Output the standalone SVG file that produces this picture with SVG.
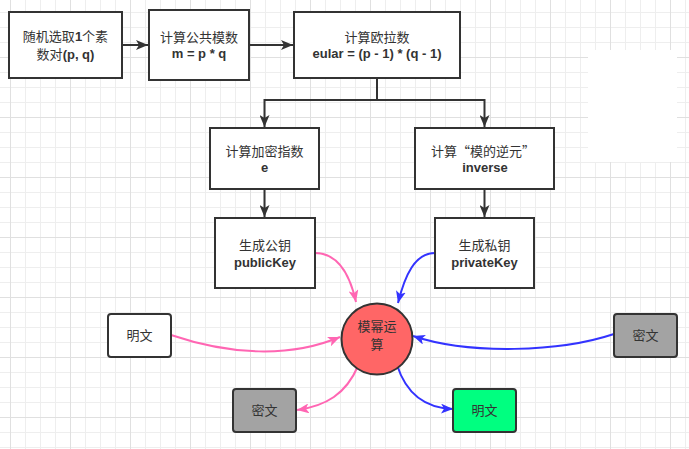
<svg xmlns="http://www.w3.org/2000/svg" width="689" height="449" viewBox="0 0 689 449">
<style>
.box{fill:#ffffff;stroke:#333333;stroke-width:2}
.cn{font-family:"Noto Sans CJK SC","Liberation Sans",sans-serif;font-size:13px;fill:#333333;text-anchor:middle}
.en{font-family:"Liberation Sans","Noto Sans CJK SC",sans-serif;font-size:13px;font-weight:bold;fill:#333333}
.blk{fill:none;stroke:#333333;stroke-width:2}
.pink{fill:none;stroke:#FF66B3;stroke-width:2}
.blue{fill:none;stroke:#3333FF;stroke-width:2}
</style>
<defs>
<pattern id="grid" width="60" height="60" x="10" y="-3" patternUnits="userSpaceOnUse">
<rect x="0" y="0" width="60" height="60" fill="#ffffff"/>
<rect x="15" y="0" width="1" height="60" fill="#eeeeee"/>
<rect x="30" y="0" width="1" height="60" fill="#eeeeee"/>
<rect x="45" y="0" width="1" height="60" fill="#eeeeee"/>
<rect x="0" y="15" width="60" height="1" fill="#eeeeee"/>
<rect x="0" y="30" width="60" height="1" fill="#eeeeee"/>
<rect x="0" y="45" width="60" height="1" fill="#eeeeee"/>
<rect x="0" y="0" width="1" height="60" fill="#e0e0e0"/>
<rect x="0" y="0" width="60" height="1" fill="#e0e0e0"/>
</pattern>
<marker id="aBlk" viewBox="0 0 12 10" markerWidth="12" markerHeight="10" refX="12" refY="5" orient="auto" markerUnits="userSpaceOnUse">
<path d="M0,0 L12,5 L0,10 L3,5 z" fill="#333333"/>
</marker>
<marker id="aPink" viewBox="0 0 12 10" markerWidth="12" markerHeight="10" refX="12" refY="5" orient="auto" markerUnits="userSpaceOnUse">
<path d="M0,0 L12,5 L0,10 L3,5 z" fill="#FF66B3"/>
</marker>
<marker id="aBlue" viewBox="0 0 12 10" markerWidth="12" markerHeight="10" refX="12" refY="5" orient="auto" markerUnits="userSpaceOnUse">
<path d="M0,0 L12,5 L0,10 L3,5 z" fill="#3333FF"/>
</marker>
</defs>
<rect x="0" y="0" width="689" height="449" fill="url(#grid)"/>
<rect x="588" y="50" width="89" height="112" fill="#ffffff"/>

<g id="connectors">
<path class="blk" d="M122,45 H148" marker-end="url(#aBlk)"/>
<path class="blk" d="M249,45 H293" marker-end="url(#aBlk)"/>
<path class="blk" d="M377,78 V100"/>
<path class="blk" d="M264.5,100 H484.5"/>
<path class="blk" d="M264.5,99 V127" marker-end="url(#aBlk)"/>
<path class="blk" d="M484.5,99 V127" marker-end="url(#aBlk)"/>
<path class="blk" d="M264.5,189 V217" marker-end="url(#aBlk)"/>
<path class="blk" d="M484.5,189 V217" marker-end="url(#aBlk)"/>
<path class="pink" d="M315,253 C338,253 350,275 356,302" marker-end="url(#aPink)"/>
<path class="blue" d="M435,253 C415,253 405,275 398,303" marker-end="url(#aBlue)"/>
<path class="pink" d="M171,335 C230,355 290,358 340,337" marker-end="url(#aPink)"/>
<path class="blue" d="M614,334 C560,352 470,355 413,336" marker-end="url(#aBlue)"/>
<path class="pink" d="M358,366 C346,394 326,406 297,410" marker-end="url(#aPink)"/>
<path class="blue" d="M397,365 C405,390 421,408 453,409" marker-end="url(#aBlue)"/>
</g>

<g id="n1">
<rect class="box" x="9" y="12" width="113" height="66"/>
<text class="cn" x="65.5" y="40.5">随机选取<tspan style="font-family:'Liberation Sans',sans-serif;font-weight:bold">1</tspan>个素</text>
<text class="cn" x="65.5" y="59">数对<tspan style="font-family:'Liberation Sans',sans-serif;font-weight:bold">(p, q)</tspan></text>
</g>
<g id="n2">
<rect class="box" x="149" y="10" width="100" height="70"/>
<text class="cn" x="199" y="41.5">计算公共模数</text>
<text class="en" x="199" y="57.5" text-anchor="middle">m = p * q</text>
</g>
<g id="n3">
<rect class="box" x="294" y="12" width="166" height="66"/>
<text class="cn" x="377" y="41.5">计算欧拉数</text>
<text class="en" x="377" y="57.5" text-anchor="middle">eular = (p - 1) * (q - 1)</text>
</g>
<g id="n4">
<rect class="box" x="210" y="128" width="109" height="61"/>
<text class="cn" x="264.5" y="156">计算加密指数</text>
<text class="en" x="264.5" y="172" text-anchor="middle">e</text>
</g>
<g id="n5">
<rect class="box" x="415" y="128" width="139" height="61"/>
<text class="cn" x="483" y="156">计算“模的逆元”</text>
<text class="en" x="485" y="172" text-anchor="middle">inverse</text>
</g>
<g id="n6">
<rect class="box" x="215" y="218" width="100" height="70"/>
<text class="cn" x="265" y="249.5">生成公钥</text>
<text class="en" x="265" y="266.5" text-anchor="middle">publicKey</text>
</g>
<g id="n7">
<rect class="box" x="435" y="218" width="99" height="70"/>
<text class="cn" x="484.5" y="249.5">生成私钥</text>
<text class="en" x="484.5" y="266.5" text-anchor="middle">privateKey</text>
</g>
<g id="modpow">
<circle cx="377" cy="339" r="35.5" fill="#FF6666" stroke="#333333" stroke-width="2"/>
<text class="cn" x="377" y="330.5">模幂运</text>
<text class="cn" x="377" y="349">算</text>
</g>
<g id="plain1">
<rect class="box" x="108" y="314" width="63" height="43" rx="3"/>
<text class="cn" x="139.5" y="340">明文</text>
</g>
<g id="cipher1">
<rect x="614" y="314" width="63" height="43" rx="3" fill="#A3A3A3" stroke="#333333" stroke-width="2"/>
<text class="cn" x="645.5" y="340">密文</text>
</g>
<g id="cipher2">
<rect x="233" y="389" width="63" height="43" rx="3" fill="#A3A3A3" stroke="#333333" stroke-width="2"/>
<text class="cn" x="264.5" y="415">密文</text>
</g>
<g id="plain2">
<rect x="453" y="389" width="63" height="43" rx="3" fill="#00FF80" stroke="#333333" stroke-width="2"/>
<text class="cn" x="484.5" y="415">明文</text>
</g>
</svg>
